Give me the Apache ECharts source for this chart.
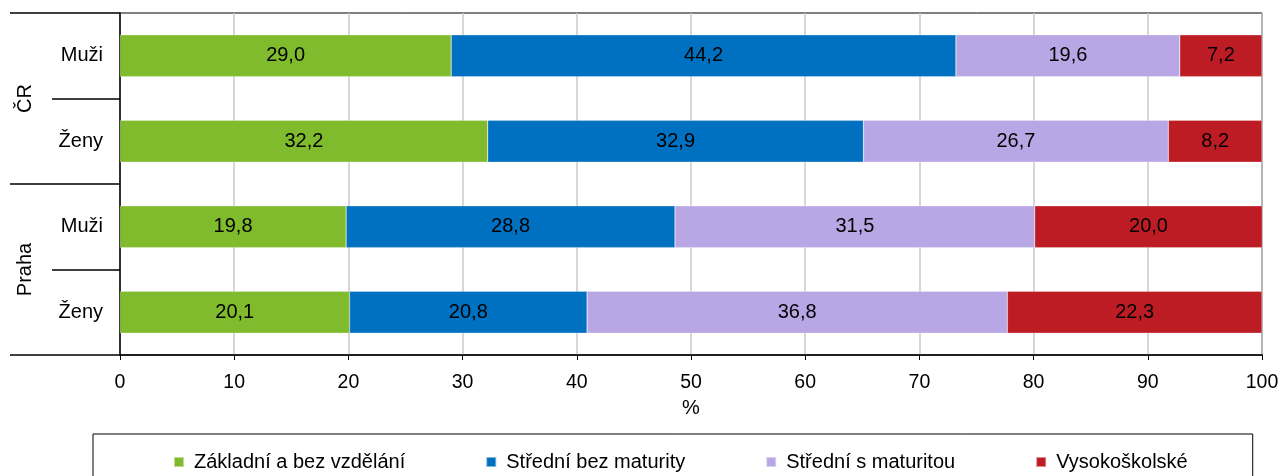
<!DOCTYPE html>
<html>
<head>
<meta charset="utf-8">
<script src="https://cdn.jsdelivr.net/npm/echarts@6/dist/echarts.min.js"></script>
<style>
html,body{margin:0;padding:0;background:#fff;}
#chart{width:1282px;height:476px;}
</style>
</head>
<body>
<div id="chart"></div>
<script>
const groups = ['ČR', 'Praha'];
const categories = ['ČR|Muži', 'ČR|Ženy', 'Praha|Muži', 'Praha|Ženy'];
const seriesNames = ['Základní a bez vzdělání', 'Střední bez maturity', 'Střední s maturitou', 'Vysokoškolské'];
const zakladni = [29.0, 32.2, 19.8, 20.1];
const stredniBez = [44.2, 32.9, 28.8, 20.8];
const stredniS = [19.6, 26.7, 31.5, 36.8];
const vysoko = [7.2, 8.2, 20.0, 22.3];
const xTicks = [0, 10, 20, 30, 40, 50, 60, 70, 80, 90, 100];
const colors = ['#80BB2E', '#0070C0', '#B9A6E5', '#BE1C24'];

const FONT = '"Liberation Sans", Arial, sans-serif';
const values = [zakladni, stredniBez, stredniS, vysoko];

const chart = echarts.init(document.getElementById('chart'), null, {renderer: 'canvas'});
const fmt = v => Number(v).toFixed(1).replace('.', ',');

chart.setOption({
  backgroundColor: '#fff',
  animation: false,
  textStyle: {fontFamily: FONT, color: '#000'},
  grid: {left: 120, right: 20, top: 13, bottom: 121, show: true, borderColor: '#000', borderWidth: 1},
  legend: {
    data: seriesNames,
    left: 93, top: 434,
    itemWidth: 10, itemHeight: 10, itemGap: 80,
    icon: 'rect',
    padding: [18, 65, 30, 80],
    borderColor: '#000', borderWidth: 1,
    textStyle: {fontFamily: FONT, fontSize: 20, color: '#000', padding: [0, 0, 0, 5]}
  },
  xAxis: {
    type: 'value', min: 0, max: 100, interval: 10,
    name: '%', nameLocation: 'middle', nameGap: 43,
    nameTextStyle: {fontFamily: FONT, fontSize: 20, color: '#000'},
    axisLine: {show: true, lineStyle: {color: '#000', width: 1.5}},
    axisTick: {show: true, length: 5, lineStyle: {color: '#000', width: 1}},
    axisLabel: {fontFamily: FONT, fontSize: 19.5, color: '#000', margin: 18,
      customValues: xTicks},
    splitLine: {show: true, lineStyle: {color: '#C8C8C8', width: 1.5}}
  },
  yAxis: [
    {
      type: 'category', data: categories, inverse: true, position: 'left',
      axisLine: {show: true, lineStyle: {color: '#000', width: 1.5}},
      axisTick: {show: true, length: 68, alignWithLabel: false, lineStyle: {color: '#000', width: 1.5}},
      axisLabel: {fontFamily: FONT, fontSize: 20, color: '#000', margin: 17,
        formatter: v => v.split('|')[1]},
      splitLine: {show: false}
    },
    {
      type: 'category', data: groups, inverse: true, position: 'left', offset: 68,
      axisLine: {show: false},
      axisTick: {show: true, length: 42, alignWithLabel: false, lineStyle: {color: '#000', width: 1.5}},
      axisLabel: {fontFamily: FONT, fontSize: 20, color: '#000', rotate: 90, margin: 17},
      splitLine: {show: false}
    }
  ],
  series: seriesNames.map((name, i) => ({
    name: name,
    type: 'bar',
    stack: 'total',
    yAxisIndex: 0,
    barWidth: '49%',
    itemStyle: {color: colors[i], borderColor: 'rgba(255,255,255,0.5)', borderWidth: 0.5},
    label: {show: true, position: 'inside', color: '#000', fontFamily: FONT, fontSize: 20,
      formatter: p => fmt(p.value)},
    data: values[i]
  }))
});
</script>
</body>
</html>
